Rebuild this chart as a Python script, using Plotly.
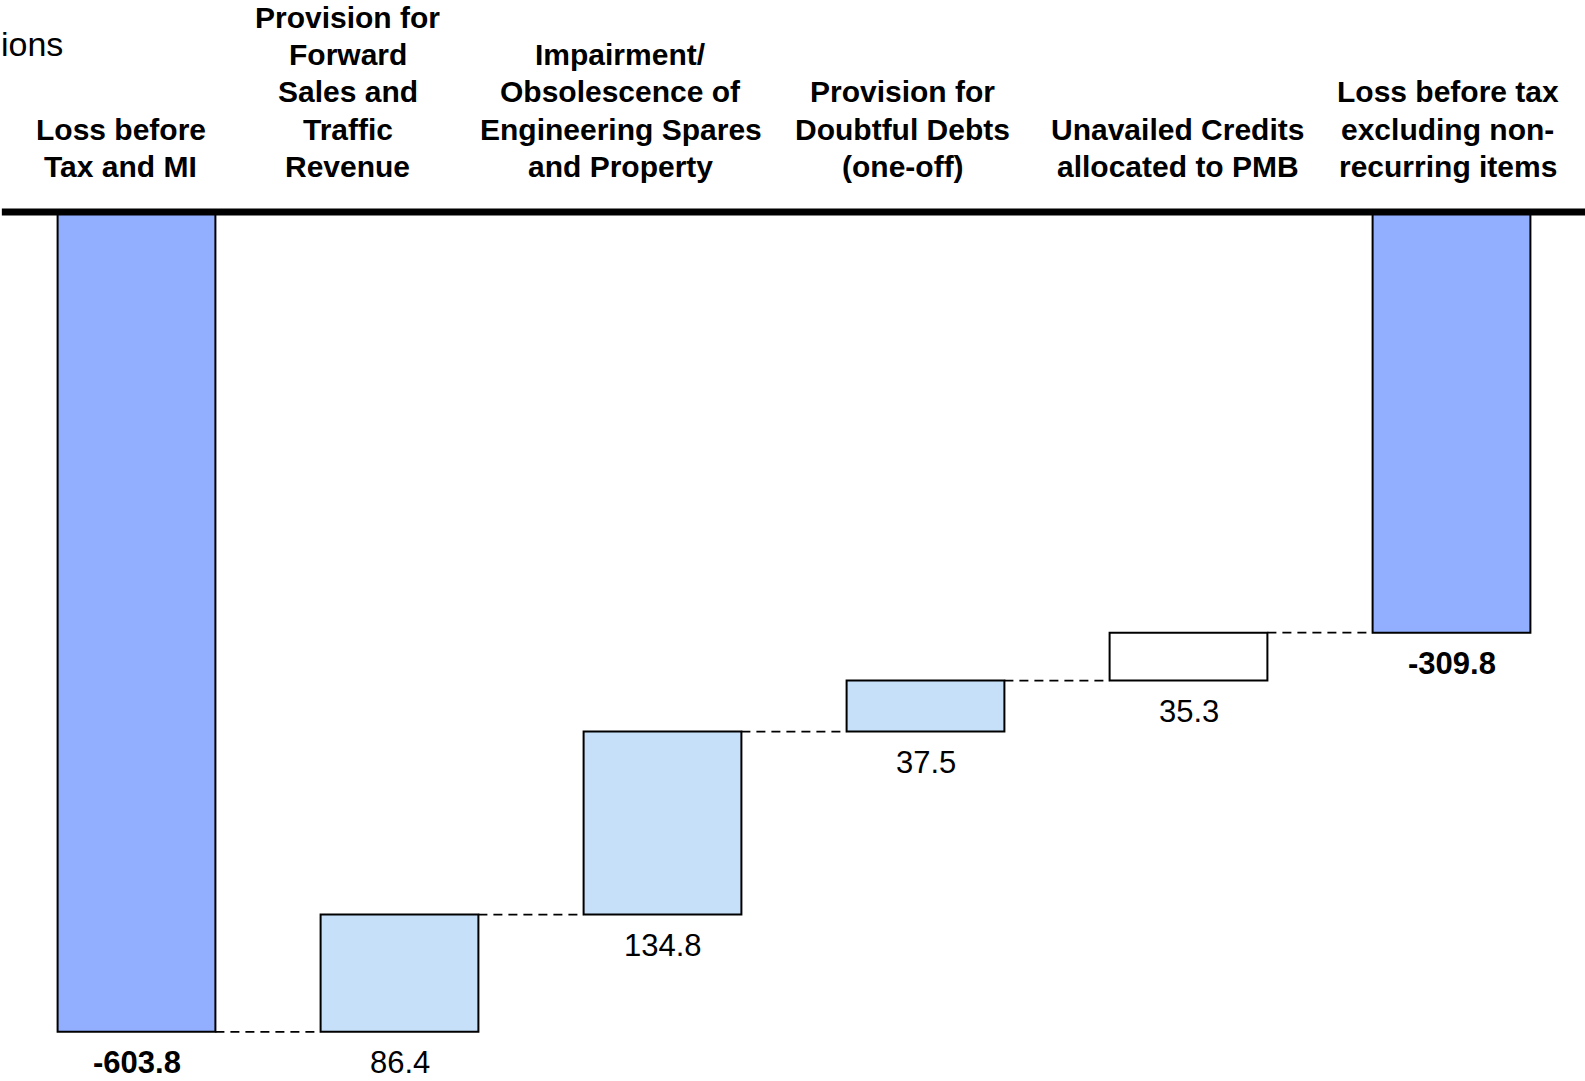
import plotly.graph_objects as go

# ---- data ----
categories = ["Loss before Tax and MI",
              "Provision for Forward Sales and Traffic Revenue",
              "Impairment/ Obsolescence of Engineering Spares and Property",
              "Provision for Doubtful Debts (one-off)",
              "Unavailed Credits allocated to PMB",
              "Loss before tax excluding non-recurring items"]
label_lines = [["Loss before", "Tax and MI"],
               ["Provision for", "Forward", "Sales and", "Traffic", "Revenue"],
               ["Impairment/", "Obsolescence of", "Engineering Spares", "and Property"],
               ["Provision for", "Doubtful Debts", "(one-off)"],
               ["Unavailed Credits", "allocated to PMB"],
               ["Loss before tax", "excluding non-", "recurring items"]]
values = [-603.8, 86.4, 134.8, 37.5, 35.3, -309.8]
measures = ["total", "relative", "relative", "relative", "relative", "total"]
value_labels = ["-603.8", "86.4", "134.8", "37.5", "35.3", "-309.8"]
fill_colors = ["#92AFFF", "#C6E0FA", "#C6E0FA", "#C6E0FA", "#FFFFFF", "#92AFFF"]
# horizontal pixel offsets of the header text boxes relative to each bar
label_xshift = [-16, -52, -42, -23, -11, -4]

# ---- compute bar bases (waterfall) ----
bases, heights, running = [], [], 0.0
for v, m in zip(values, measures):
    if m == "total":
        bases.append(0.0)
        heights.append(v)
        running = v
    else:
        bases.append(running)
        heights.append(v)
        running += v
bottoms = [min(b, b + h) for b, h in zip(bases, heights)]
level_after = [b + h if m == "relative" else h for b, h, m in zip(bases, heights, measures)]

x_idx = list(range(len(categories)))
BW = 0.6
Y_TOP = 3.0
Y_BOTTOM = -640.0
PX_PER_UNIT = (1081 - 212.5) / (0 - Y_BOTTOM)
TOP_MARGIN = 212.5 - Y_TOP * PX_PER_UNIT

fig = go.Figure()
fig.add_trace(go.Bar(
    x=x_idx, y=heights, base=bases, width=BW,
    marker=dict(color=fill_colors, line=dict(color="black", width=2)),
    hoverinfo="skip", showlegend=False))

shapes = []
# connectors
for i in range(len(categories) - 1):
    lvl = level_after[i]
    shapes.append(dict(type="line", xref="x", yref="y",
                       x0=i + BW / 2, x1=i + 1 - BW / 2, y0=lvl, y1=lvl,
                       line=dict(color="black", width=1.8, dash="9px,6px")))
# zero axis line
shapes.append(dict(type="line", xref="paper", yref="y", x0=-0.002, x1=1.01, y0=0, y1=0,
                   line=dict(color="black", width=7), layer="above"))

annotations = []
# value labels below bars
for i in x_idx:
    bold = measures[i] == "total"
    txt = f"<b>{value_labels[i]}</b>" if bold else value_labels[i]
    annotations.append(dict(x=i, y=bottoms[i], xref="x", yref="y", text=txt,
                            showarrow=False, yanchor="middle", yshift=-31,
                            font=dict(family="Liberation Sans, Arial", size=31, color="black")))
# category labels (bottom-aligned lines)
LINE_SP = 37.2
for i, lines in enumerate(label_lines):
    n = len(lines)
    for k, line in enumerate(lines):
        shift = (212.5 - 166.8) + (n - 1 - k) * LINE_SP
        annotations.append(dict(x=i, y=0, xref="x", yref="y", text=f"<b>{line}</b>",
                                showarrow=False, yanchor="middle", yshift=shift,
                                xshift=label_xshift[i], borderpad=0,
                                font=dict(family="Liberation Sans, Arial", size=30, color="black")))
# clipped unit title
annotations.append(dict(x=0, y=0, xref="paper", yref="y", text="ions", showarrow=False,
                        xanchor="left", yanchor="middle", xshift=-6, yshift=212.5 - 44,
                        font=dict(family="Liberation Sans, Arial", size=34, color="black")))

fig.update_layout(
    width=1585, height=1081,
    margin=dict(l=5, r=2, t=TOP_MARGIN, b=0),
    paper_bgcolor="white", plot_bgcolor="white",
    xaxis=dict(range=[-0.5, 5.5], showticklabels=False, showgrid=False, zeroline=False,
               showline=False, ticks=""),
    yaxis=dict(range=[Y_BOTTOM, Y_TOP], showticklabels=False, showgrid=False, zeroline=False,
               showline=False, ticks=""),
    shapes=shapes, annotations=annotations,
    bargap=0.4,
)

fig.write_html("out.html")
